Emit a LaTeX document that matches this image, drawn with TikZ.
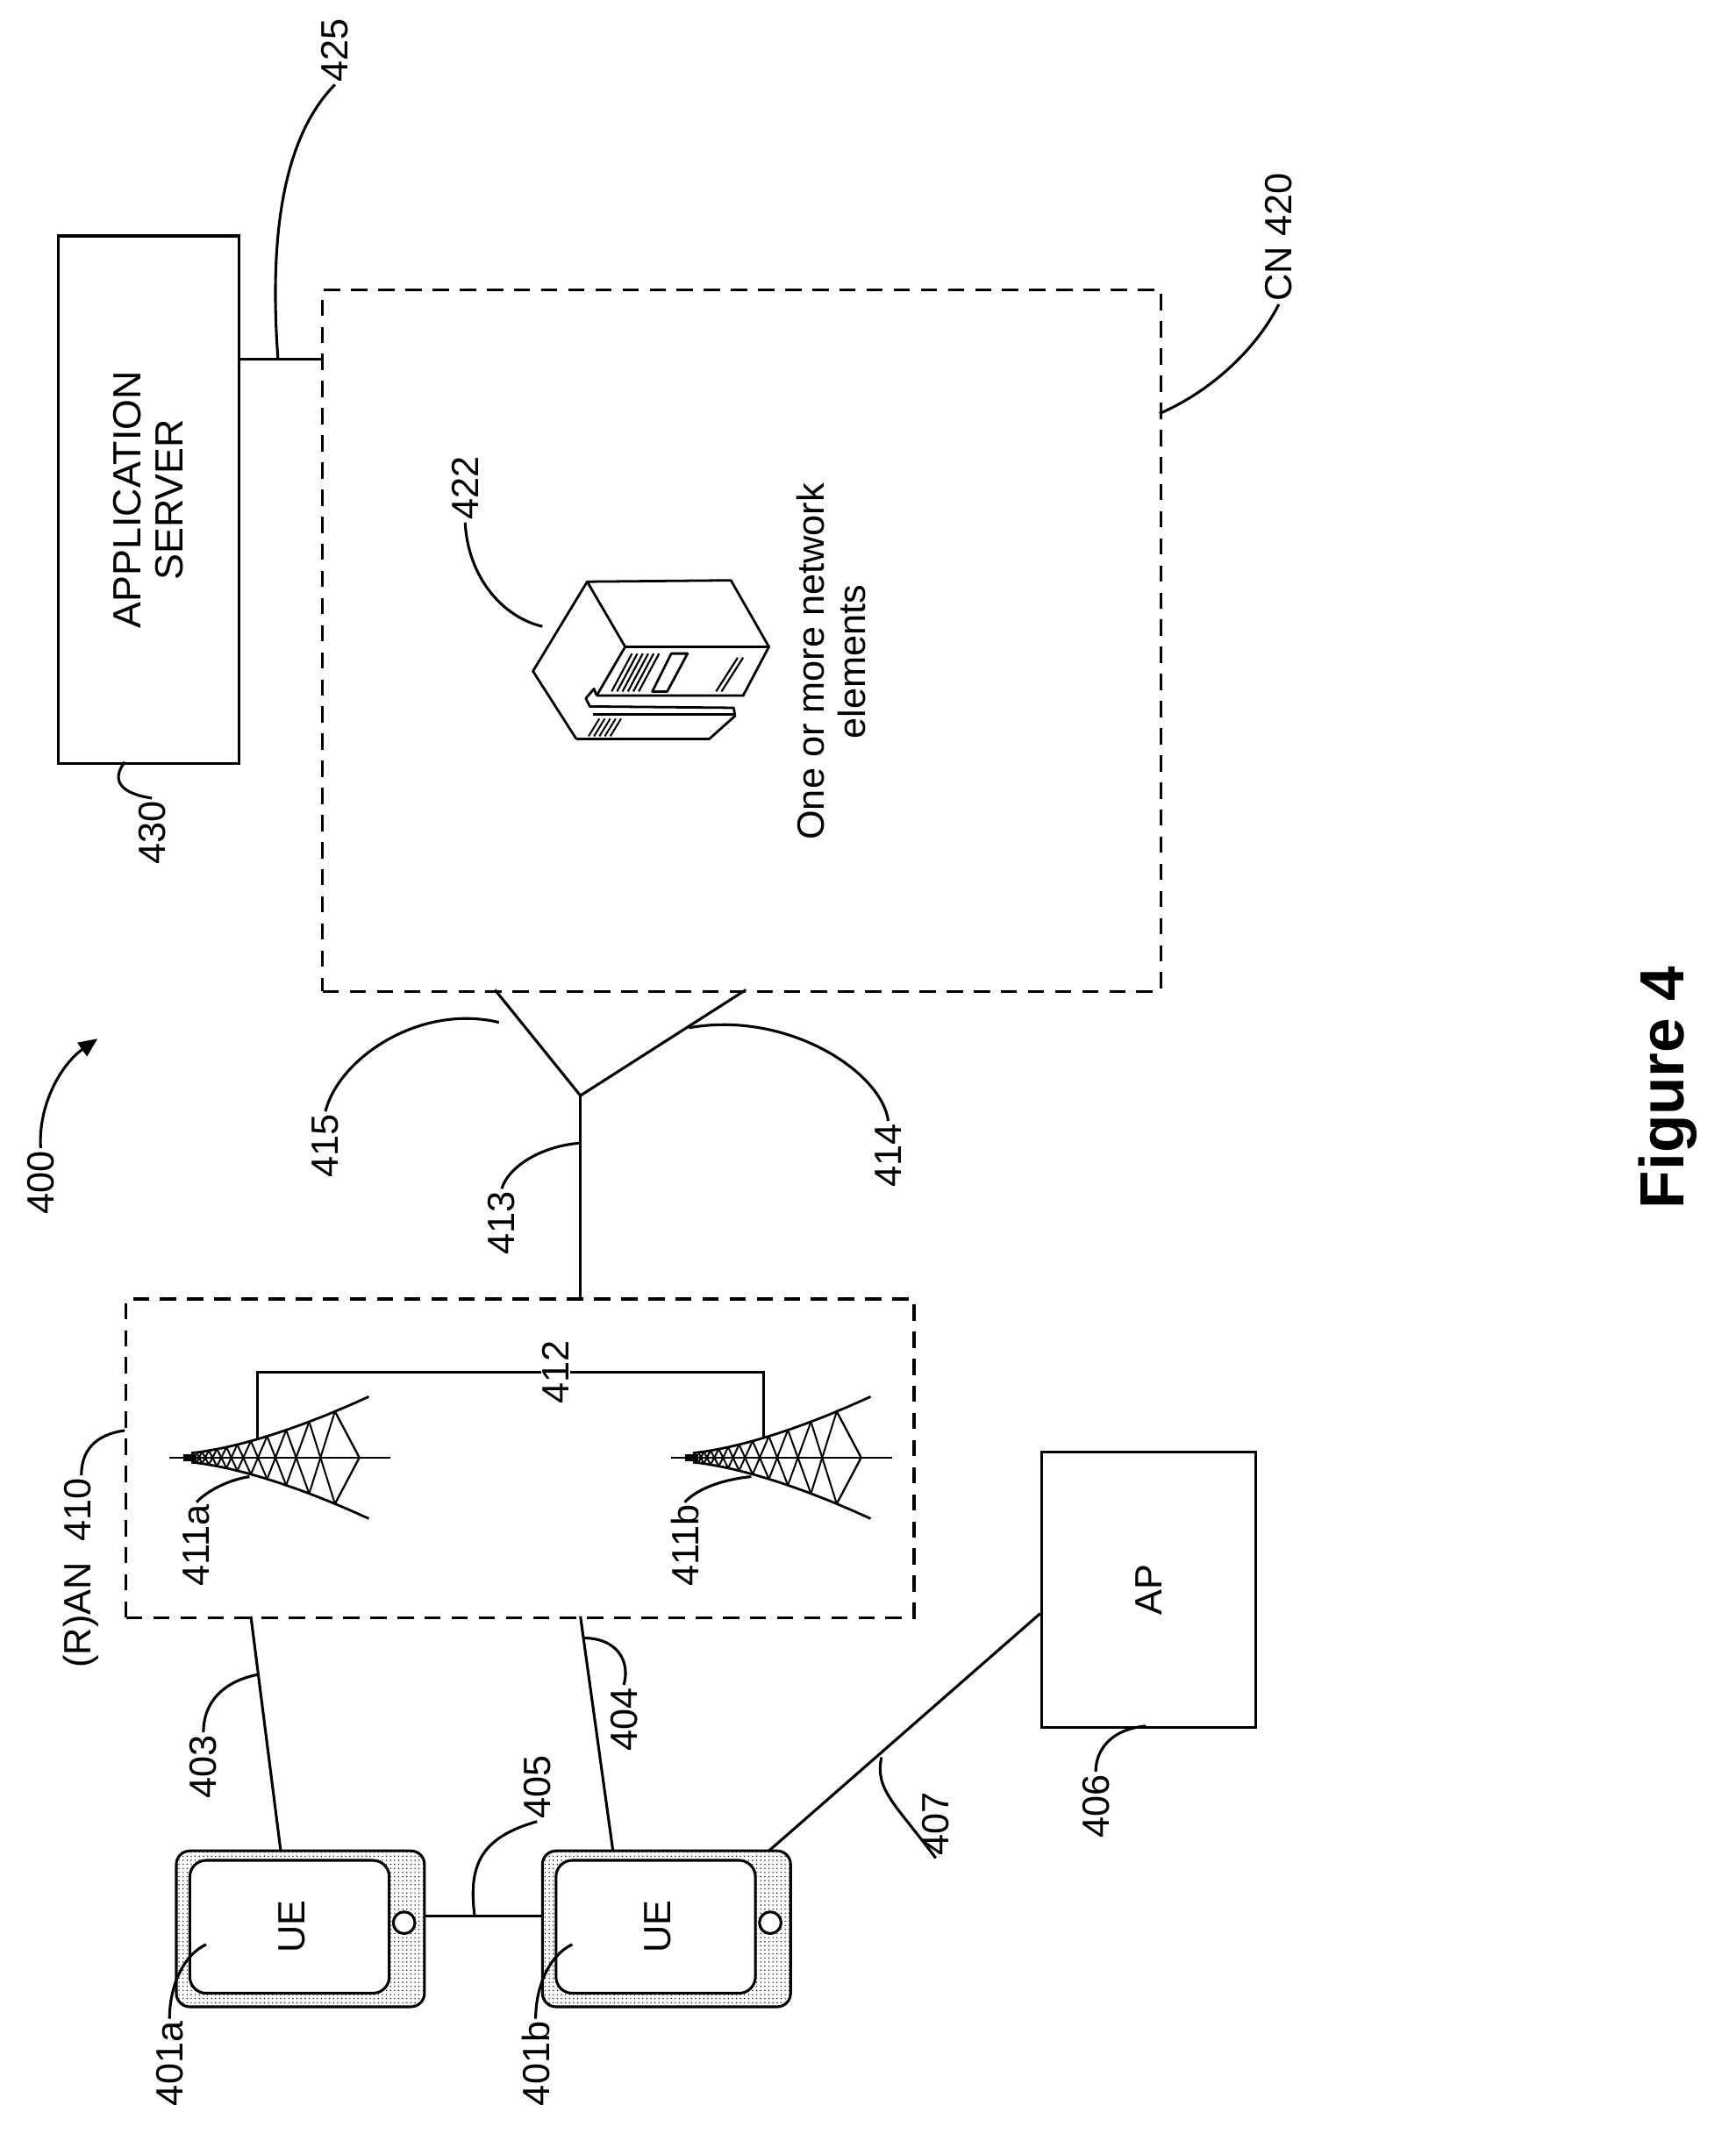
\documentclass[tikz,border=0pt]{standalone}
\usepackage{fontspec}
\setmainfont{Liberation Sans}
\usetikzlibrary{patterns,arrows.meta}
\begin{document}
\begin{tikzpicture}[x=1pt,y=-1pt,line width=2pt,
  lbl/.style={font=\fontsize{28}{30}\selectfont,rotate=90,inner sep=1pt},
  dbox/.style={draw,dash pattern=on 12pt off 8pt},
  lead/.style={line width=2pt},
  declare function={tw(\x)=3+42*(\x/137)^1.5;},
  tower/.pic={
    \draw[line width=1.6pt] (-10,0) -- (153,0);
    \draw[line width=1.8pt] plot[domain=6:137,samples=30] (\x,{-tw(\x)});
    \draw[line width=1.8pt] plot[domain=6:137,samples=30] (\x,{tw(\x)});
    \fill (0,-2.5) rectangle (10,2.5);
    \foreach \a/\b in {10/14,14/19,19/25,25/32,32/40,40/50,50/62,62/76,76/93,93/112}{
      \draw[line width=1.3pt] (\a,{-tw(\a)}) -- (\b,{tw(\b)});
      \draw[line width=1.3pt] (\a,{tw(\a)}) -- (\b,{-tw(\b)});
    }
    \draw[line width=1.5pt] (112,{-tw(112)}) -- (130,0) -- (112,{tw(112)});
  }]
\useasboundingbox (0,0) rectangle (1280,1579);

% Application server
\node[draw,minimum width=133pt,minimum height=389pt,anchor=north west,inner sep=0] (as) at (42,173) {};
\node[lbl,align=center,font=\fontsize{29}{31}\selectfont] (astxt) at (as.center) {APPLICATION\\SERVER};
% CN
\node[dbox,minimum width=618pt,minimum height=517pt,anchor=north west,inner sep=0] (cn) at (237,213) {};
\coordinate (cnL) at (237,265);
\draw (as.east |- cnL) -- (cnL);
\node[lbl] (l425) at (247,37) {425};
\draw[lead] (205,265) .. controls (198,170) and (210,100) .. (l425.west);
\node[lbl] (l430) at (112,614) {430};
\draw[lead] (92,562) .. controls (82,575) and (88,585) .. (l430.east);
\node[lbl] (l420) at (943,175) {CN 420};
\draw[lead] (855,305) .. controls (890,290) and (925,260) .. (l420.west);

% server icon
\begin{scope}[line width=1.8pt,line join=round]
\draw (433,429) -- (539,428) -- (567,477) -- (461,477) -- cycle;
\draw (433,429) -- (393,495) -- (425,545);
\draw (567,477) -- (548,513) -- (440,513);
\draw (461,477) -- (440,513);
\draw (440,513) -- (438,508) -- (432,515) -- (435,521) -- (541,522) -- (542,528) -- (523,545) -- (425,545);
\draw (437,527) -- (541,527);
\draw (495,482) -- (507,482) -- (492,510) -- (481,510) -- cycle;
\foreach \x in {466,470,474,478,482,486}{\draw[line width=1.4pt] (\x,482) -- (\x-15,510);}
\draw[line width=1.4pt] (548,485) -- (532,510);
\draw[line width=1.4pt] (544,485) -- (528,510);
\foreach \x in {442,446,450,454,458}{\draw[line width=1.3pt] (\x,530) -- (\x-8,543);}
\end{scope}
\node[lbl] (l422) at (343,360) {422};
\draw[lead] (l422.west) .. controls (345,425) and (370,455) .. (400,462);
\node[lbl,align=center] (ne) at (613,488) {One or more network\\elements};

% 400
\node[lbl] (l400) at (30,872) {400};
\draw[lead,-{Triangle[length=14pt,width=12pt]}] (l400.east) .. controls (28,815) and (45,785) .. (72,766);

% RAN
\node[dbox,minimum width=581pt,minimum height=235pt,anchor=north west,inner sep=0] (ran) at (92,957) {};
\node[lbl] (l410) at (60,1160) {(R)AN\ \ 410};
\draw[lead] (92,1055) .. controls (70,1058) and (60,1070) .. (l410.east);
\pic (ta) at (135,1075) {tower};
\pic (tb) at (505,1075) {tower};
\coordinate (ja) at (190,1061);
\coordinate (jb) at (563,1061);
\draw (ja) -- (190,1012) -- (563,1012) -- (jb);
\node[lbl,fill=white] (l412) at (410,1012) {412};
\node[lbl] (l411a) at (145,1140) {411a};
\draw[lead] (l411a.east) .. controls (150,1102) and (165,1092) .. (184,1089);
\node[lbl] (l411b) at (505,1140) {411b};
\draw[lead] (l411b.east) .. controls (510,1102) and (525,1092) .. (554,1089);

% Y connector
\coordinate (y0) at (428,808);
\draw (365,730) -- (y0) -- (550,730);
\draw (y0) -- (428,957);
\node[lbl] (l415) at (240,845) {415};
\draw[lead] (l415.east) .. controls (250,780) and (310,740) .. (368,754);
\node[lbl] (l413) at (370,902) {413};
\draw[lead] (l413.east) .. controls (375,860) and (400,845) .. (428,843);
\node[lbl] (l414) at (655,852) {414};
\draw[lead] (l414.east) .. controls (650,790) and (580,745) .. (508,758);

% UEs
\foreach \n/\x in {a/130,b/400}{
  \draw[pattern=dots,rounded corners=10pt] (\x,1365) rectangle (\x+183,1480);
  \draw[fill=white,rounded corners=12pt] (\x+10,1372) rectangle (\x+157,1470);
  \draw[fill=white] (\x+168,1418) circle (8pt);
  \node[lbl] (ue\n) at (\x+85,1421) {UE};
}
\coordinate (uaR) at (313,1413);
\coordinate (ubL) at (400,1413);
\draw (uaR) -- (ubL);
\node[lbl] (l405) at (396,1318) {405};
\draw[lead] (350,1413) .. controls (345,1375) and (355,1355) .. (l405.west);
\node[lbl] (l401a) at (125,1522) {401a};
\draw[lead] (l401a.east) .. controls (125,1465) and (135,1442) .. (152,1434);
\node[lbl] (l401b) at (395,1522) {401b};
\draw[lead] (l401b.east) .. controls (395,1465) and (405,1442) .. (422,1434);

\draw (185,1192) -- (207,1365);
\node[lbl] (l403) at (150,1303) {403};
\draw[lead] (l403.east) .. controls (150,1255) and (165,1240) .. (190,1235);
\draw (428,1192) -- (452,1365);
\node[lbl] (l404) at (460,1268) {404};
\draw[lead] (430,1208) .. controls (455,1208) and (465,1225) .. (l404.east);

% AP
\node[draw,minimum width=158pt,minimum height=203pt,anchor=north west,inner sep=0] (ap) at (767,1070) {};
\node[lbl] (aptxt) at (ap.center) {AP};
\draw (567,1365) -- (ap.west |- 0,1190);
\node[lbl] (l407) at (690,1345) {407};
\draw[lead] (650,1296) .. controls (645,1320) and (660,1330) .. (l407.west);
\node[lbl] (l406) at (808,1332) {406};
\draw[lead] (845,1273) .. controls (820,1275) and (808,1290) .. (l406.east);

\node[rotate=90,font=\fontsize{46}{48}\selectfont\bfseries] (fig) at (1230,802) {Figure 4};
\end{tikzpicture}
\end{document}
